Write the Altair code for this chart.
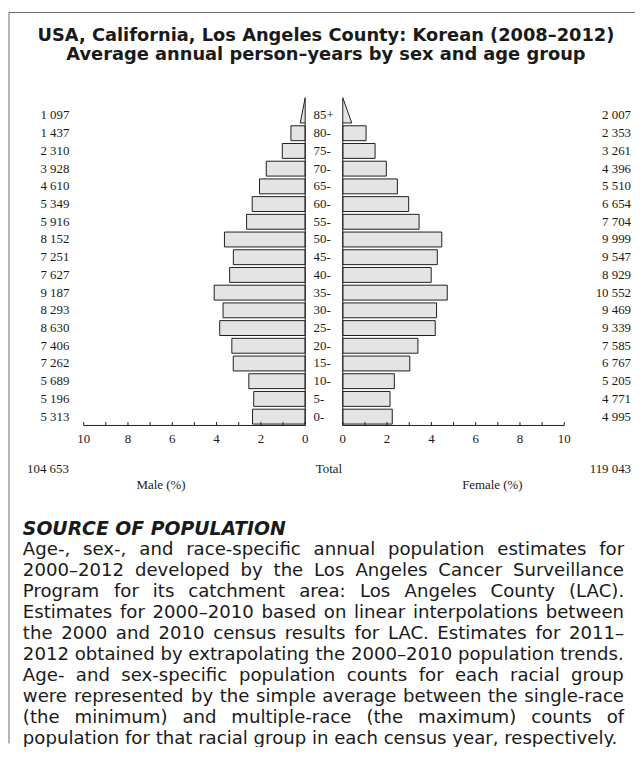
import altair as alt
import pandas as pd

# ------------------------------------------------------------------ data
age_groups = ["0-", "5-", "10-", "15-", "20-", "25-", "30-", "35-", "40-",
              "45-", "50-", "55-", "60-", "65-", "70-", "75-", "80-", "85+"]
male_counts = [5313, 5196, 5689, 7262, 7406, 8630, 8293, 9187, 7627,
               7251, 8152, 5916, 5349, 4610, 3928, 2310, 1437, 1097]
female_counts = [4995, 4771, 5205, 6767, 7585, 9339, 9469, 10552, 8929,
                 9547, 9999, 7704, 6654, 5510, 4396, 3261, 2353, 2007]
axis_ticks = list(range(0, 11))
axis_tick_labels = [0, 2, 4, 6, 8, 10]

title_lines = ["USA, California, Los Angeles County: Korean (2008–2012)",
               "Average annual person–years by sex and age group"]
male_axis_title = "Male (%)"
female_axis_title = "Female (%)"
total_title = "Total"
source_heading = "SOURCE OF POPULATION"
source_lines = [
    "Age-, sex-, and race-specific annual population estimates for",
    "2000–2012 developed by the Los Angeles Cancer Surveillance",
    "Program for its catchment area: Los Angeles County (LAC).",
    "Estimates for 2000–2010 based on linear interpolations between",
    "the 2000 and 2010 census results for LAC. Estimates for 2011–",
    "2012 obtained by extrapolating the 2000–2010 population trends.",
    "Age- and sex-specific population counts for each racial group",
    "were represented by the simple average between the single-race",
    "(the minimum) and multiple-race (the maximum) counts of",
    "population for that racial group in each census year, respectively.",
]

# ------------------------------------------------------------ geometry
W, H = 632, 738
PX = 22.36            # pixels per percent
CX = 318.0            # chart-x of the centre between both panels
GAP = 19.0 / PX       # half the central gap, in percent units
ROW = 17.882          # pixels per age row
ROW0_Y = 408.0        # chart-y of the centre of row "0-"
BAR_HALF = 0.42
TXT = "#1a1a1a"
BAR_FILL = "#e4e4e4"
BAR_STROKE = "#1e1e1e"


def ux(px):
    return (px - CX) / PX


def ry(py):
    return (ROW0_Y - py) / ROW


x_scale = alt.Scale(domain=[ux(0), ux(W)], nice=False, zero=False)
y_scale = alt.Scale(domain=[ry(H), ry(0)], nice=False, zero=False)


def X(f):
    return alt.X(f, type="quantitative", scale=x_scale, axis=None)


def Y(f):
    return alt.Y(f, type="quantitative", scale=y_scale, axis=None)


def fmt(n):
    return f"{n:,}".replace(",", " ")


total_pop = sum(male_counts) + sum(female_counts)
rows = pd.DataFrame({
    "age": age_groups,
    "r": list(range(len(age_groups))),
    "male": male_counts,
    "female": female_counts,
})
rows["mpct"] = rows["male"] / total_pop * 100
rows["fpct"] = rows["female"] / total_pop * 100
rows["mlbl"] = rows["male"].map(fmt)
rows["flbl"] = rows["female"].map(fmt)
rows["y"] = rows["r"] - BAR_HALF
rows["y2"] = rows["r"] + BAR_HALF
rows["mx"] = -GAP - rows["mpct"]
rows["mx2"] = -GAP
rows["fx"] = GAP
rows["fx2"] = GAP + rows["fpct"]

bars_df = rows[rows["age"] != "85+"]
top = rows[rows["age"] == "85+"].iloc[0]
APEX = 18.0
TRI = 0.45
male_tri = pd.DataFrame({
    "y": [top["r"] - BAR_HALF, APEX],
    "x": [-GAP - top["mpct"] * TRI, -GAP],
    "x2": [-GAP, -GAP],
})
female_tri = pd.DataFrame({
    "y": [top["r"] - BAR_HALF, APEX],
    "x": [GAP + top["fpct"] * TRI, GAP],
    "x2": [GAP, GAP],
})

bar_style = dict(fill=BAR_FILL, stroke=BAR_STROKE, strokeWidth=1)
male_bars = alt.Chart(bars_df).mark_rect(**bar_style).encode(
    x=X("mx"), x2=alt.X2("mx2"), y=Y("y"), y2=alt.Y2("y2"))
female_bars = alt.Chart(bars_df).mark_rect(**bar_style).encode(
    x=X("fx"), x2=alt.X2("fx2"), y=Y("y"), y2=alt.Y2("y2"))
male_top = alt.Chart(male_tri).mark_area(orient="horizontal", **bar_style).encode(
    y=Y("y"), x=X("x"), x2=alt.X2("x2"))
female_top = alt.Chart(female_tri).mark_area(orient="horizontal", **bar_style).encode(
    y=Y("y"), x=X("x"), x2=alt.X2("x2"))

# axes
axis_lines = pd.DataFrame({
    "x": [-GAP - 10, GAP],
    "x2": [-GAP, GAP + 10],
    "y": [-0.5, -0.5],
})
zero_lines = pd.DataFrame({
    "x": [-GAP, GAP],
    "y": [-0.5, -0.5],
    "y2": [top["r"] - BAR_HALF] * 2,
})
ticks_df = pd.DataFrame({
    "x": [-GAP - k for k in axis_ticks] + [GAP + k for k in axis_ticks],
    "y": -0.5,
    "y2": -0.5 + 3.5 / ROW,
})
tick_lbl_df = pd.DataFrame({
    "x": [-GAP - k for k in axis_tick_labels] + [GAP + k for k in axis_tick_labels],
    "t": [str(k) for k in axis_tick_labels] * 2,
    "y": ry(431),
})
line_style = dict(color="#1e1e1e", strokeWidth=1)
axis_layer = alt.Chart(axis_lines).mark_rule(**line_style).encode(
    x=X("x"), x2=alt.X2("x2"), y=Y("y"))
zero_layer = alt.Chart(zero_lines).mark_rule(**line_style).encode(
    x=X("x"), y=Y("y"), y2=alt.Y2("y2"))
tick_layer = alt.Chart(ticks_df).mark_rule(**line_style).encode(
    x=X("x"), y=Y("y"), y2=alt.Y2("y2"))
serif = dict(font="Liberation Serif", fontSize=13, color=TXT)
tick_lbls = alt.Chart(tick_lbl_df).mark_text(baseline="middle", align="center", **serif).encode(
    x=X("x"), y=Y("y"), text="t:N")

# row labels
male_lbls = alt.Chart(rows).mark_text(align="right", baseline="middle", **serif).encode(
    x=alt.value(61), y=Y("r"), text="mlbl:N")
female_lbls = alt.Chart(rows).mark_text(align="right", baseline="middle", **serif).encode(
    x=alt.value(628), y=Y("r"), text="flbl:N")
age_lbls = alt.Chart(rows).mark_text(align="left", baseline="middle", **serif).encode(
    x=alt.value(307.5), y=Y("r"), text="age:N")

foot_df = pd.DataFrame({"male": [fmt(sum(male_counts))],
                        "female": [fmt(sum(female_counts))],
                        "total": [total_title],
                        "mt": [male_axis_title], "ft": [female_axis_title]})
foot = alt.Chart(foot_df)
foot_layers = [
    foot.mark_text(align="right", baseline="middle", **serif).encode(
        x=alt.value(60.5), y=alt.value(461), text="male:N"),
    foot.mark_text(align="right", baseline="middle", **serif).encode(
        x=alt.value(628), y=alt.value(461), text="female:N"),
    foot.mark_text(align="center", baseline="middle", **serif).encode(
        x=alt.value(323), y=alt.value(461), text="total:N"),
    foot.mark_text(align="center", baseline="middle", **serif).encode(
        x=alt.value(153.5), y=alt.value(477), text="mt:N"),
    foot.mark_text(align="center", baseline="middle", **serif).encode(
        x=alt.value(488), y=alt.value(477), text="ft:N"),
]

# titles
title_df = pd.DataFrame({"t": title_lines, "y": [ry(28.5), ry(48)]})
title_layer = alt.Chart(title_df).mark_text(
    font="DejaVu Sans", fontWeight="bold", fontSize=18, color=TXT,
    align="center", baseline="alphabetic").encode(
    x=alt.value(320), y=Y("y"), text="t:N")

head_df = pd.DataFrame({"t": [source_heading]})
head_layer = alt.Chart(head_df).mark_text(
    font="DejaVu Sans", fontWeight="bold", fontStyle="italic", fontSize=19,
    color=TXT, align="left", baseline="alphabetic").encode(
    x=alt.value(14), y=alt.value(528), text="t:N")

# justified paragraph (DejaVu Sans advance widths, units per 2048 em)
DJV = {' ': 651, '(': 799, ')': 799, ',': 651, '-': 739, '.': 651, ':': 690,
       '–': 1024, 'A': 1401, 'C': 1430, 'E': 1294, 'L': 1141, 'P': 1235,
       'S': 1300, 'a': 1255, 'b': 1300, 'c': 1126, 'd': 1300, 'e': 1260,
       'f': 721, 'g': 1300, 'h': 1298, 'i': 569, 'j': 569, 'k': 1186,
       'l': 569, 'm': 1995, 'n': 1298, 'o': 1253, 'p': 1300, 'q': 1300,
       'r': 842, 's': 1067, 't': 803, 'u': 1298, 'v': 1212, 'w': 1675,
       'x': 1212, 'y': 1212, 'z': 1075}
BODY_SIZE = 18.3
BODY_LEFT, BODY_RIGHT = 14.0, 621.0
BODY_Y0, BODY_LH = 548.0, 21.2


def tw(s):
    return sum(DJV.get(c, 1303) for c in s) / 2048 * BODY_SIZE


word_rows = []
for i, line in enumerate(source_lines):
    yb = BODY_Y0 + i * BODY_LH
    if i == len(source_lines) - 1:
        word_rows.append({"t": line, "x": ux(BODY_LEFT), "y": ry(yb)})
        continue
    words = line.split(" ")
    widths = [tw(w) for w in words]
    gap = (BODY_RIGHT - BODY_LEFT - sum(widths)) / (len(words) - 1)
    xpos = BODY_LEFT
    for w, wd in zip(words, widths):
        word_rows.append({"t": w, "x": ux(xpos), "y": ry(yb)})
        xpos += wd + gap
body_layer = alt.Chart(pd.DataFrame(word_rows)).mark_text(
    font="DejaVu Sans", fontSize=BODY_SIZE, color=TXT, align="left",
    baseline="alphabetic").encode(x=X("x"), y=Y("y"), text="t:N")

# frame (top and left edges)
frame_df = pd.DataFrame({"k": [0]})
frame_top = alt.Chart(frame_df).mark_rule(color="#6a6a6a", strokeWidth=1).encode(
    x=alt.value(0), x2=alt.value(W), y=alt.value(0))
frame_left = alt.Chart(frame_df).mark_rule(color="#6a6a6a", strokeWidth=1).encode(
    x=alt.value(0), y=alt.value(0), y2=alt.value(H))

chart = alt.layer(
    frame_top, frame_left,
    male_bars, female_bars, male_top, female_top,
    axis_layer, zero_layer, tick_layer, tick_lbls,
    male_lbls, female_lbls, age_lbls, *foot_layers,
    title_layer, head_layer, body_layer,
).properties(
    width=W, height=H,
    autosize=alt.AutoSizeParams(type="none"),
    padding={"left": 1, "top": 1, "right": 0, "bottom": 0},
    background="white",
).configure_view(strokeWidth=0)

chart.save("out.html", embed_options={"renderer": "svg", "actions": False})
